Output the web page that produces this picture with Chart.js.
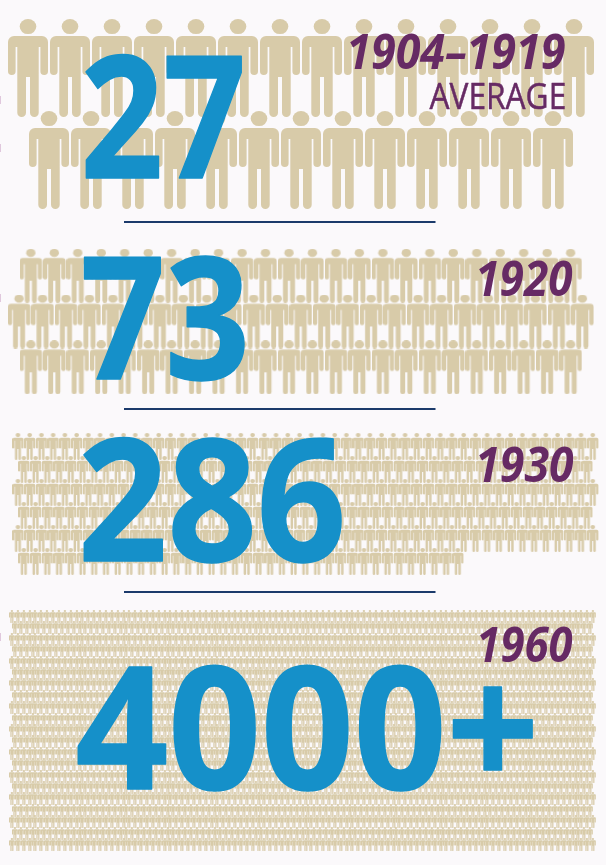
<!DOCTYPE html>
<html>
<head>
<meta charset="utf-8">
<title>Crowd sizes</title>
<style>
  html, body { margin: 0; padding: 0; background: #fbf9fb; }
  #wrap { position: relative; width: 606px; height: 865px; overflow: hidden; }
</style>
</head>
<body>
<div id="wrap"><canvas id="chart" width="606" height="865"></canvas></div>
<script src="https://cdn.jsdelivr.net/npm/chart.js@4/dist/chart.umd.min.js"></script>
<script>
// figures per row, one list per period
const rows1904 = [14, 13];
const rows1920 = [24, 25, 24];
const rows1930 = [50, 49, 50, 49, 50, 38];
const rows1960 = [100, 99, 100, 99, 100, 99, 100, 99, 100, 99, 100, 99, 100, 99, 100, 99, 100, 99, 100, 99, 100];

const totals = ['27', '73', '286', '4000+'];
const periods = ['1904–1919', '1920', '1930', '1960'];
const periodNote = 'AVERAGE';

const TAN = '#d8cba9';
const BLUE = '#1590c9';
const PURPLE = '#662a64';
const NAVY = '#1b3a6b';
const W = 606;
const H = 865;

// one figure, drawn in a 40x98 box and scaled to whatever size a panel wants
function personIcon(w, h) {
    const c = document.createElement('canvas');
    c.width = Math.ceil(w);
    c.height = Math.ceil(h);
    const g = c.getContext('2d');
    g.scale(w / 40, h / 98);
    g.fillStyle = TAN;
    g.beginPath();
    g.ellipse(20, 7.6, 8.3, 7.5, 0, 0, Math.PI * 2);
    g.fill();
    g.beginPath();
    g.roundRect(0, 17, 40, 11, [6, 6, 0, 0]);
    g.roundRect(0, 24, 7.6, 32, [0, 0, 3.8, 3.8]);
    g.roundRect(32.4, 24, 7.6, 32, [0, 0, 3.8, 3.8]);
    g.rect(9.3, 24, 21.4, 34);
    g.roundRect(9.3, 55, 8.7, 43, [0, 0, 4.3, 4.3]);
    g.roundRect(22, 55, 8.7, 43, [0, 0, 4.3, 4.3]);
    g.fill();
    return c;
}

// column/row -> pixel mapping is left to one pair of hidden scales per panel
const panels = [
    { id: 'a', rows: rows1904, x0: 28, dx: 42, y0: 68, dy: 92, w: 40, h: 98 },
    { id: 'b', rows: rows1920, x0: 19.3, dx: 23.47, y0: 275.7, dy: 45.8, w: 22.5, h: 54 },
    { id: 'c', rows: rows1930, x0: 18.3, dx: 11.73, y0: 446.5, dy: 23, w: 11.3, h: 27 },
    { id: 'd', rows: rows1960, x0: 12, dx: 5.87, y0: 616.5, dy: 11.4, w: 5.8, h: 13 },
];

// shorter rows sit half a step in from the longest one
function rowPoints(rows) {
    const longest = Math.max(...rows);
    const pts = [];
    rows.forEach((count, r) => {
        const shift = count === longest ? 0 : 0.5;
        for (let i = 0; i < count; i++) pts.push({ x: i + shift, y: r });
    });
    return pts;
}

const scales = {};
panels.forEach((p) => {
    scales['x' + p.id] = { type: 'linear', display: false, min: -p.x0 / p.dx, max: (W - p.x0) / p.dx };
    scales['y' + p.id] = { type: 'linear', display: false, reverse: true, min: -p.y0 / p.dy, max: (H - p.y0) / p.dy };
});

const datasets = panels.map((p, i) => ({
    label: periods[i],
    data: rowPoints(p.rows),
    xAxisID: 'x' + p.id,
    yAxisID: 'y' + p.id,
    pointStyle: personIcon(p.w, p.h),
    pointRadius: 5,
    showLine: false,
    clip: false,
}));

const BIG = 'bold 170px "Open Sans"';
const YEAR = 'italic bold 48px "Open Sans"';

// text placed by ink edges: left, right, baseline; heavy thickens the strokes a little
const labels = [
    { text: totals[0], font: BIG, color: BLUE, left: 85.5, right: 241.5, base: 178, heavy: 1.5 },
    { text: totals[1], font: BIG, color: BLUE, left: 84, right: 244.5, base: 379, heavy: 1.5 },
    { text: totals[2], font: BIG, color: BLUE, left: 83.5, right: 341.5, base: 561, heavy: 1.5 },
    { text: totals[3], font: BIG, color: BLUE, left: 77.5, right: 532.5, base: 789, heavy: 1.5 },
    { text: periods[0], font: YEAR, color: PURPLE, left: 350, right: 565, base: 69 },
    { text: periodNote, font: '36px "Open Sans"', color: PURPLE, left: 429.5, right: 564.5, base: 108.5, heavy: 0.5 },
    { text: periods[1], font: YEAR, color: PURPLE, left: 479, right: 573, base: 296 },
    { text: periods[2], font: YEAR, color: PURPLE, left: 479, right: 574, base: 481.5 },
    { text: periods[3], font: YEAR, color: PURPLE, left: 480, right: 573, base: 661.5 },
];

const rules = [222, 409, 592];
const edgeMarks = [100, 148, 298, 637];

const overlay = {
    id: 'overlay',
    // the smallest figures go soft when resampled, so skip smoothing for them
    beforeDatasetDraw(chart, args) {
        chart.ctx.imageSmoothingEnabled = args.index !== 3;
    },
    afterDatasetDraw(chart) {
        chart.ctx.imageSmoothingEnabled = true;
    },
    afterDatasetsDraw(chart) {
        const ctx = chart.ctx;
        ctx.save();
        ctx.strokeStyle = NAVY;
        ctx.lineWidth = 2;
        rules.forEach((y) => {
            ctx.beginPath();
            ctx.moveTo(124, y);
            ctx.lineTo(435.5, y);
            ctx.stroke();
        });
        ctx.fillStyle = '#e0c8dd';
        edgeMarks.forEach((y) => ctx.fillRect(0, y - 4, 1, 8));
        ctx.textBaseline = 'alphabetic';
        ctx.textAlign = 'left';
        ctx.lineJoin = 'round';
        labels.forEach((l) => {
            ctx.font = l.font;
            ctx.fillStyle = l.color;
            const m = ctx.measureText(l.text);
            const ink = m.actualBoundingBoxRight + m.actualBoundingBoxLeft;
            const sx = (l.right - l.left) / ink;
            ctx.save();
            ctx.translate(l.left + m.actualBoundingBoxLeft * sx, l.base);
            ctx.scale(sx, 1);
            if (l.heavy) {
                ctx.strokeStyle = l.color;
                ctx.lineWidth = l.heavy;
                ctx.strokeText(l.text, 0, 0);
            }
            ctx.fillText(l.text, 0, 0);
            ctx.restore();
        });
        ctx.restore();
    },
};

document.fonts.load(BIG).then(() => document.fonts.load(YEAR)).finally(() => {
    new Chart(document.getElementById('chart'), {
        type: 'scatter',
        data: { datasets },
        options: {
            responsive: false,
            animation: false,
            events: [],
            layout: { padding: 0, autoPadding: false },
            scales,
            plugins: { legend: { display: false }, tooltip: { enabled: false } },
        },
        plugins: [overlay],
    });
});
</script>
</body>
</html>
